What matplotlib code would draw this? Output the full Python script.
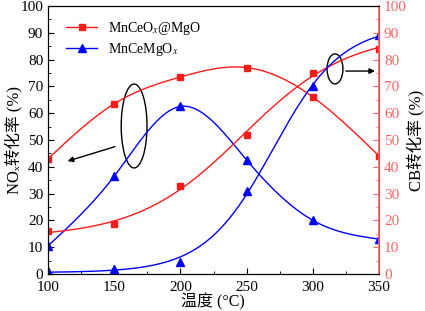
import numpy as np
import matplotlib
matplotlib.use("Agg")
import matplotlib.pyplot as plt
from matplotlib.patches import Ellipse
from matplotlib.ticker import MultipleLocator

FONTS = ['Liberation Serif', 'Noto Sans CJK SC', 'DejaVu Sans']
plt.rcParams['font.family'] = FONTS
plt.rcParams['mathtext.fontset'] = 'stix'

temps = [100, 150, 200, 250, 300, 350]

# NOx conversion (left axis)
nox_mnceox_mgo = [43, 63.5, 73.5, 77, 66, 44]
nox_mncemgox = [10.5, 36.5, 62.5, 42.5, 20, 13]

# CB conversion (right axis)
cb_mnceox_mgo = [16, 18.5, 33, 52, 75, 84]
cb_mncemgox = [1.2, 2, 4.5, 31, 70, 89]

RED = '#ff1a1a'
BLUE = '#0000ff'
AXRED = '#ff6464'


def spline_line(x, y, n=300):
    # natural cubic spline through the points (Origin "spline" connect)
    x = np.asarray(x, float)
    y = np.asarray(y, float)
    k = len(x)
    h = np.diff(x)
    A = np.zeros((k, k))
    r = np.zeros(k)
    A[0, 0] = A[-1, -1] = 1
    for i in range(1, k - 1):
        A[i, i - 1] = h[i - 1]
        A[i, i] = 2 * (h[i - 1] + h[i])
        A[i, i + 1] = h[i]
        r[i] = 6 * ((y[i + 1] - y[i]) / h[i] - (y[i] - y[i - 1]) / h[i - 1])
    m = np.linalg.solve(A, r)
    xs = np.linspace(x[0], x[-1], n)
    idx = np.clip(np.searchsorted(x, xs) - 1, 0, k - 2)
    t0 = x[idx + 1] - xs
    t1 = xs - x[idx]
    hi = h[idx]
    ys = (m[idx] * t0 ** 3 + m[idx + 1] * t1 ** 3) / (6 * hi) \
        + (y[idx] / hi - m[idx] * hi / 6) * t0 \
        + (y[idx + 1] / hi - m[idx + 1] * hi / 6) * t1
    return xs, ys


def boltzmann_fit(x, y, n=300):
    # least-squares Boltzmann (sigmoid) fit, grid over x0/dx, linear in A1/A2
    x = np.asarray(x, float)
    y = np.asarray(y, float)
    best = None
    for x0 in np.linspace(180, 380, 201):
        for dx in np.linspace(10, 120, 111):
            s = 1 / (1 + np.exp((x - x0) / dx))
            M = np.column_stack([s, 1 - s])
            coef, *_ = np.linalg.lstsq(M, y, rcond=None)
            err = np.sum((M @ coef - y) ** 2)
            if best is None or err < best[0]:
                best = (err, x0, dx, coef)
    _, x0, dx, (a1, a2) = best
    xs = np.linspace(x[0], x[-1], n)
    s = 1 / (1 + np.exp((xs - x0) / dx))
    return xs, a1 * s + a2 * (1 - s)


fig = plt.figure(figsize=(4.25, 3.11), dpi=100)
ax = fig.add_axes([0.113, 0.119, 0.779, 0.862])
ax2 = ax.twinx()

for a in (ax, ax2):
    a.set_xlim(100, 350)
    a.set_ylim(0, 100)
    a.yaxis.set_major_locator(MultipleLocator(10))
    a.yaxis.set_minor_locator(MultipleLocator(5))
ax.xaxis.set_major_locator(MultipleLocator(50))
ax.xaxis.set_minor_locator(MultipleLocator(25))

ax.tick_params(which='both', direction='in', labelsize=11, top=False)
ax.tick_params(which='major', length=4)
ax.tick_params(which='minor', length=2)
ax.tick_params(axis='x', pad=5)
ax2.tick_params(which='both', direction='in', colors=AXRED, labelsize=11)
ax2.tick_params(which='major', length=4)
ax2.tick_params(which='minor', length=2)
ax2.spines['right'].set_color(AXRED)
ax2.spines['right'].set_linewidth(1.2)

# NOx curves
xs, ys = spline_line(temps, nox_mnceox_mgo)
ax.plot(xs, ys, color=RED, lw=1)
ax.plot(temps, nox_mnceox_mgo, 's', color=RED, ms=5)
xs, ys = spline_line(temps, nox_mncemgox)
ax.plot(xs, ys, color=BLUE, lw=1)
ax.plot(temps, nox_mncemgox, '^', color=BLUE, ms=5.5)

# CB curves
xs, ys = boltzmann_fit(temps, cb_mnceox_mgo)
ax2.plot(xs, ys, color=RED, lw=1)
ax2.plot(temps, cb_mnceox_mgo, 's', color=RED, ms=5)
xs, ys = boltzmann_fit(temps, cb_mncemgox)
ax2.plot(xs, ys, color=BLUE, lw=1)
ax2.plot(temps, cb_mncemgox, '^', color=BLUE, ms=5.5)

# legend handles
ax.plot([], [], '-s', color=RED, lw=1, ms=5, label=r'MnCeO$_x$@MgO')
ax.plot([], [], '-^', color=BLUE, lw=1, ms=5.5, label=r'MnCeMgO$_x$')
ax.legend(loc='upper left', bbox_to_anchor=(0.03, 0.98), frameon=False,
          fontsize=10, handlelength=2.2, borderaxespad=0.2, labelspacing=0.3)

# axis titles placed by hand (CJK font boxes push them off the edges otherwise)
fig.text(213 / 425, 1 - 302 / 311, '温度 (°C)', fontsize=11.5, ha='center', va='center')
fig.text(13 / 425, 1 - 140 / 311, 'NOₓ转化率 (%)', fontsize=12,
         rotation=90, ha='center', va='center')
fig.text(415 / 425, 1 - 140 / 311, 'CB转化率 (%)', fontsize=12,
         rotation=90, ha='center', va='center')

# annotation ellipses and arrows
ax.add_patch(Ellipse((165, 55.2), 19.5, 31.3, fill=False, color='black', lw=1))
ax.annotate('', xy=(112.8, 41.8), xytext=(152.5, 47.8),
            arrowprops=dict(arrowstyle='-|>', color='black', lw=1, mutation_scale=8))
ax.add_patch(Ellipse((316.7, 76.5), 12, 11.2, fill=False, color='black', lw=1))
ax.annotate('', xy=(349, 75.7), xytext=(322.8, 75.7),
            arrowprops=dict(arrowstyle='-|>', color='black', lw=1, mutation_scale=8))

fig.savefig('out.png', dpi=100)
